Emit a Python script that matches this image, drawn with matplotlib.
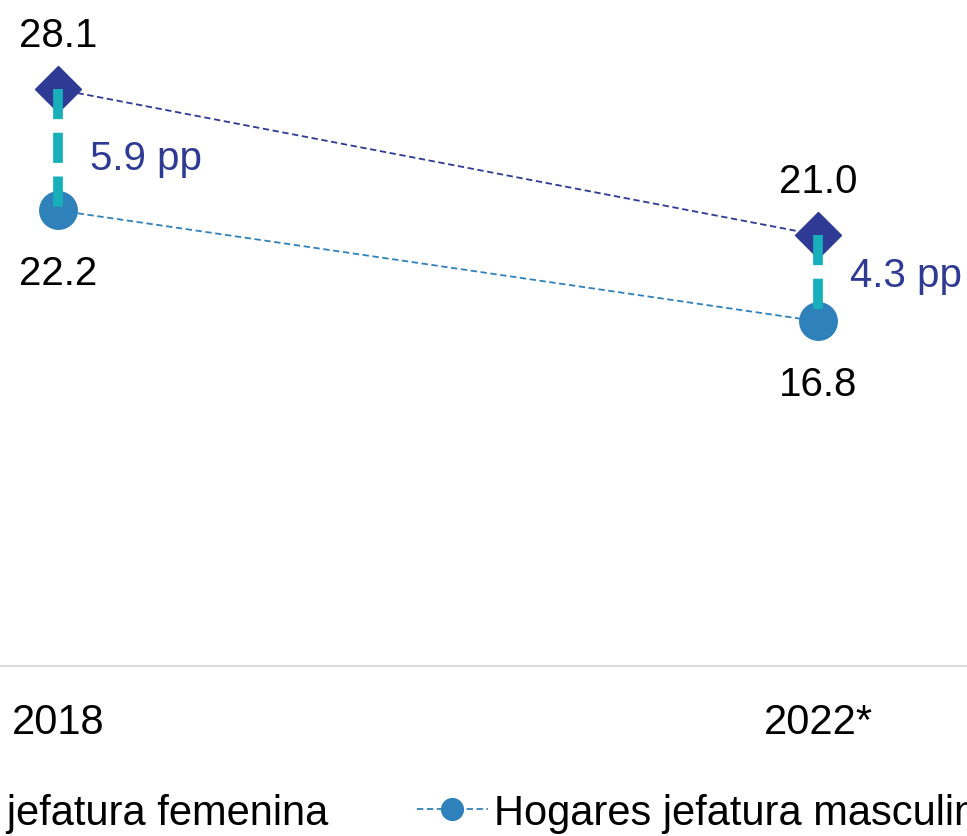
import matplotlib.pyplot as plt

years = ["2018", "2022*"]
fem = [28.1, 21.0]
masc = [22.2, 16.8]
gap_labels = ["5.9 pp", "4.3 pp"]
series_names = ["Hogares jefatura femenina", "Hogares jefatura masculina"]

navy = "#2e3a94"
blue = "#2f81bb"
teal = "#17b0ba"

plt.rcParams["font.family"] = ["Liberation Sans", "DejaVu Sans"]

fig = plt.figure(figsize=(9.67, 8.37), dpi=100)
ax = fig.add_axes([0, 0.203, 1, 0.797])
x = list(range(len(years)))

h1, = ax.plot(x, fem, color=navy, lw=1.3, dashes=(3.5, 2), marker="D",
              markersize=23, zorder=3)
h2, = ax.plot(x, masc, color=blue, lw=1.3, dashes=(3.5, 2), marker="o",
              markersize=27, zorder=3)

gap_dy = [-6, 2]  # ajuste vertical de la etiqueta de brecha
for i in x:
    # brecha entre ambas series
    ax.plot([i, i], [fem[i], masc[i]], color=teal, lw=7, dashes=(3.1, 1.4),
            zorder=4)
    ax.annotate(f"{fem[i]:.1f}", (i, fem[i]), xytext=(0, 39),
                textcoords="offset points", ha="center", va="center",
                fontsize=29)
    ax.annotate(f"{masc[i]:.1f}", (i, masc[i]), xytext=(0, -45),
                textcoords="offset points", ha="center", va="center",
                fontsize=29)
    ax.annotate(gap_labels[i], (i, (fem[i] + masc[i]) / 2),
                xytext=(23, gap_dy[i]), textcoords="offset points",
                ha="left", va="center", fontsize=29, color=navy)

ax.set_ylim(0, 32.5)
ax.set_xlim(-0.0763, 1.196)
ax.set_xticks(x, years, fontsize=30)
ax.tick_params(axis="x", length=0, pad=26)
ax.set_yticks([])
for s in ["top", "left", "right"]:
    ax.spines[s].set_visible(False)
ax.spines["bottom"].set_color("#d9d9d9")
ax.spines["bottom"].set_linewidth(1.5)

leg_kw = dict(frameon=False, borderpad=0, borderaxespad=0, handlelength=1.7,
              handletextpad=0.15, markerscale=0.58, fontsize=30)
fig.legend([h1], [series_names[0]], loc="center right",
           bbox_to_anchor=(328 / 967, 1 - 814 / 837), **leg_kw)
fig.legend([h2], [series_names[1]], loc="center left",
           bbox_to_anchor=(417 / 967, 1 - 814 / 837), **leg_kw)

fig.savefig("out.png", dpi=100)
